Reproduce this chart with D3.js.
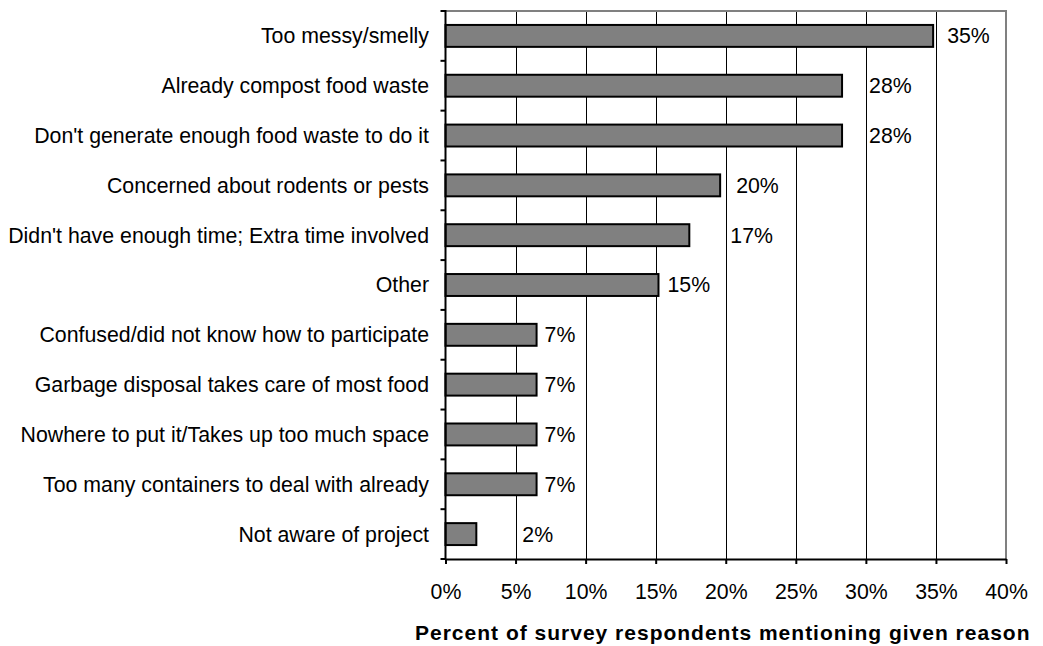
<!DOCTYPE html>
<html>
<head>
<meta charset="utf-8">
<script src="https://cdn.jsdelivr.net/npm/d3@7"></script>
<style>
  html, body { margin: 0; padding: 0; background: #fff; }
  svg { display: block; font-family: Arial, "Liberation Sans", sans-serif; }
</style>
</head>
<body>
<svg id="chart" width="1043" height="646"></svg>
<script>
// Reasons given for not taking part in the food-waste collection
const reasons = [
  "Too messy/smelly",
  "Already compost food waste",
  "Don't generate enough food waste to do it",
  "Concerned about rodents or pests",
  "Didn't have enough time; Extra time involved",
  "Other",
  "Confused/did not know how to participate",
  "Garbage disposal takes care of most food",
  "Nowhere to put it/Takes up too much space",
  "Too many containers to deal with already",
  "Not aware of project"
];
// Share of respondents mentioning each reason
const shares = [0.348, 0.283, 0.283, 0.196, 0.174, 0.152, 0.065, 0.065, 0.065, 0.065, 0.022];
// Axis ticks
const xTicks = [0, 0.05, 0.10, 0.15, 0.20, 0.25, 0.30, 0.35, 0.40];
const xTitle = "Percent of survey respondents mentioning given reason";

// Horizontal gap (px) between each bar end and its value label
const labelGap = [14, 27, 27, 16, 41, 9, 8, 8, 8, 8, 46];

const svg = d3.select("#chart");
const plotLeft = 445.5, plotRight = 1006, plotTop = 11, plotBottom = 559;
const fontSize = 21.3;

const x = d3.scaleLinear().domain([0, 0.40]).range([plotLeft, plotRight]);
const y = d3.scaleBand().domain(reasons).range([plotTop, plotBottom])
  .paddingInner(0.56).paddingOuter(0.28);

const pct = d3.format(".0%");

svg.append("rect").attr("width", 1043).attr("height", 646).attr("fill", "#fff");

// Vertical gridlines
svg.append("g").selectAll("line")
  .data(xTicks.filter(t => t > 0 && t < 0.40))
  .join("line")
  .attr("x1", d => Math.round(x(d)) + 0.5).attr("x2", d => Math.round(x(d)) + 0.5)
  .attr("y1", plotTop).attr("y2", plotBottom)
  .attr("stroke", "#000").attr("stroke-width", 1);

// Plot-area frame (top and right)
svg.append("path")
  .attr("d", `M${plotLeft},${plotTop}H${x(0.40)}V${plotBottom}`)
  .attr("fill", "none").attr("stroke", "#808080").attr("stroke-width", 2);

// Bars
svg.append("g").selectAll("rect")
  .data(reasons)
  .join("rect")
  .attr("x", x(0))
  .attr("y", d => y(d))
  .attr("width", (d, i) => x(shares[i]) - x(0))
  .attr("height", y.bandwidth())
  .attr("fill", "#808080")
  .attr("stroke", "#000")
  .attr("stroke-width", 2);

// Value labels
svg.append("g").selectAll("text")
  .data(reasons)
  .join("text")
  .attr("x", (d, i) => x(shares[i]) + labelGap[i])
  .attr("y", d => y(d) + y.bandwidth() / 2)
  .attr("dy", "0.35em")
  .attr("font-size", fontSize)
  .attr("fill", "#000")
  .text((d, i) => pct(shares[i]));

// Bottom axis
const xAxis = d3.axisBottom(x).tickValues(xTicks).tickFormat(pct)
  .tickSize(4).tickSizeOuter(0);
const gx = svg.append("g").attr("transform", `translate(0,${plotBottom})`).call(xAxis);
gx.select(".domain").attr("stroke", "#000").attr("stroke-width", 2);
gx.selectAll(".tick line").attr("stroke", "#000").attr("stroke-width", 2).attr("y2", 5);
gx.selectAll(".tick text")
  .attr("y", 40).attr("dy", null)
  .attr("font-size", fontSize).attr("font-family", "Arial, 'Liberation Sans', sans-serif")
  .attr("fill", "#000");

// Left axis with ticks at the category boundaries
const step = y.step();
const bounds = reasons.map((d, i) => plotTop + i * step).concat([plotBottom]);
const gy = svg.append("g");
gy.append("line")
  .attr("x1", plotLeft).attr("x2", plotLeft).attr("y1", plotTop - 1).attr("y2", plotBottom + 1)
  .attr("stroke", "#000").attr("stroke-width", 2);
gy.selectAll("line.tk")
  .data(bounds)
  .join("line").attr("class", "tk")
  .attr("x1", plotLeft - 5).attr("x2", plotLeft)
  .attr("y1", d => d).attr("y2", d => d)
  .attr("stroke", "#000").attr("stroke-width", 2);

// Category labels
svg.append("g").selectAll("text")
  .data(reasons)
  .join("text")
  .attr("x", 429)
  .attr("y", d => y(d) + y.bandwidth() / 2)
  .attr("dy", "0.35em")
  .attr("text-anchor", "end")
  .attr("font-size", fontSize)
  .attr("fill", "#000")
  .text(d => d);

// Axis title
svg.append("text")
  .attr("x", (plotLeft + plotRight) / 2 - 3)
  .attr("y", 640)
  .attr("text-anchor", "middle")
  .attr("font-size", 21)
  .attr("font-weight", "bold")
  .attr("letter-spacing", "1px")
  .attr("fill", "#000")
  .text(xTitle);
</script>
</body>
</html>
